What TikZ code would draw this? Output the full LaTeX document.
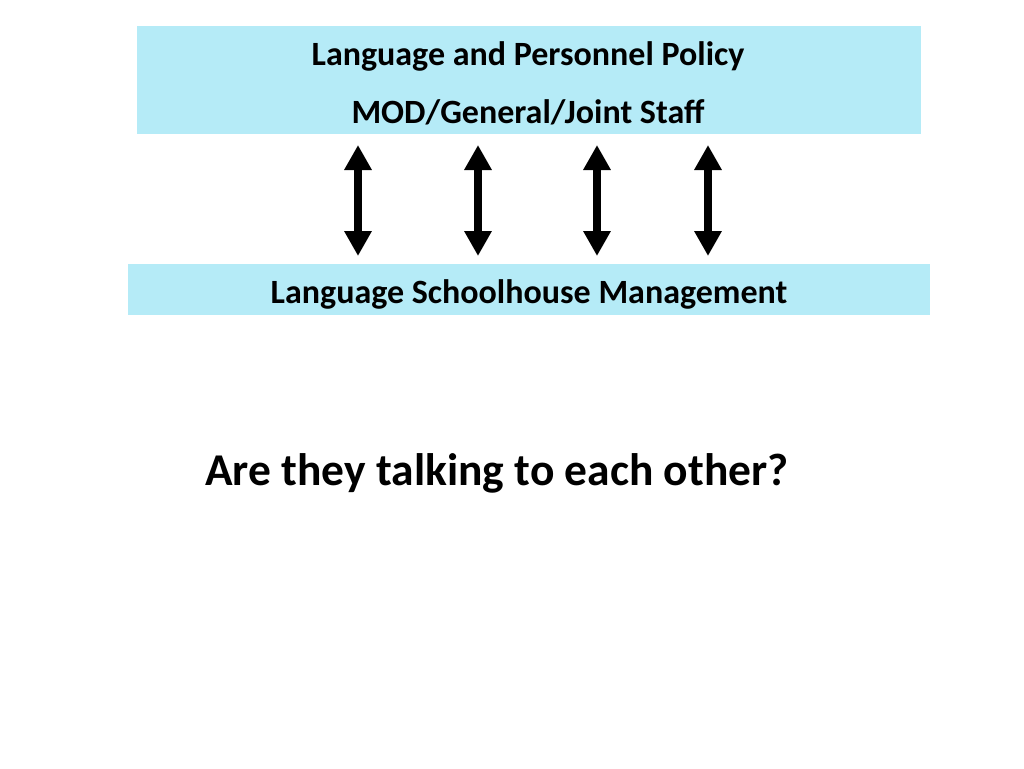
\documentclass[tikz,border=0pt]{standalone}
\usepackage{fontspec}
\setmainfont{Carlito}
\usetikzlibrary{arrows.meta}
\definecolor{boxcyan}{HTML}{B5EBF7}
\begin{document}
\begin{tikzpicture}[x=1pt,y=-1pt,
  band/.style={fill=boxcyan,draw=none},
  lbl/.style={font=\bfseries\fontsize{34}{38}\selectfont,inner sep=0pt,anchor=base},
  dbl/.style={line width=7.5pt,{Triangle[width=26pt,length=25pt]}-{Triangle[width=26pt,length=25pt]}}]
\useasboundingbox (0,0) rectangle (1024,768);
\fill[white] (0,0) rectangle (1024,768);
\path[band] (137,26) rectangle (921,134);
\path[band] (128,264) rectangle (930,315);
\node[lbl] (t1) at (528,65) {Language and Personnel Policy};
\node[lbl] (t2) at (528,123) {MOD/General/Joint Staff};
\node[lbl] (t3) at (529,303) {Language Schoolhouse Management};
\node[lbl,font=\bfseries\fontsize{45.5}{50}\selectfont] (q) at (497,485) {Are they talking to each other?};
\coordinate (a1t) at (358,145); \coordinate (a1b) at (358,256);
\coordinate (a2t) at (478,145); \coordinate (a2b) at (478,256);
\coordinate (a3t) at (597,145); \coordinate (a3b) at (597,256);
\coordinate (a4t) at (708,145); \coordinate (a4b) at (708,256);
\draw[dbl] (a1t) -- (a1b);
\draw[dbl] (a2t) -- (a2b);
\draw[dbl] (a3t) -- (a3b);
\draw[dbl] (a4t) -- (a4b);
\end{tikzpicture}
\end{document}
